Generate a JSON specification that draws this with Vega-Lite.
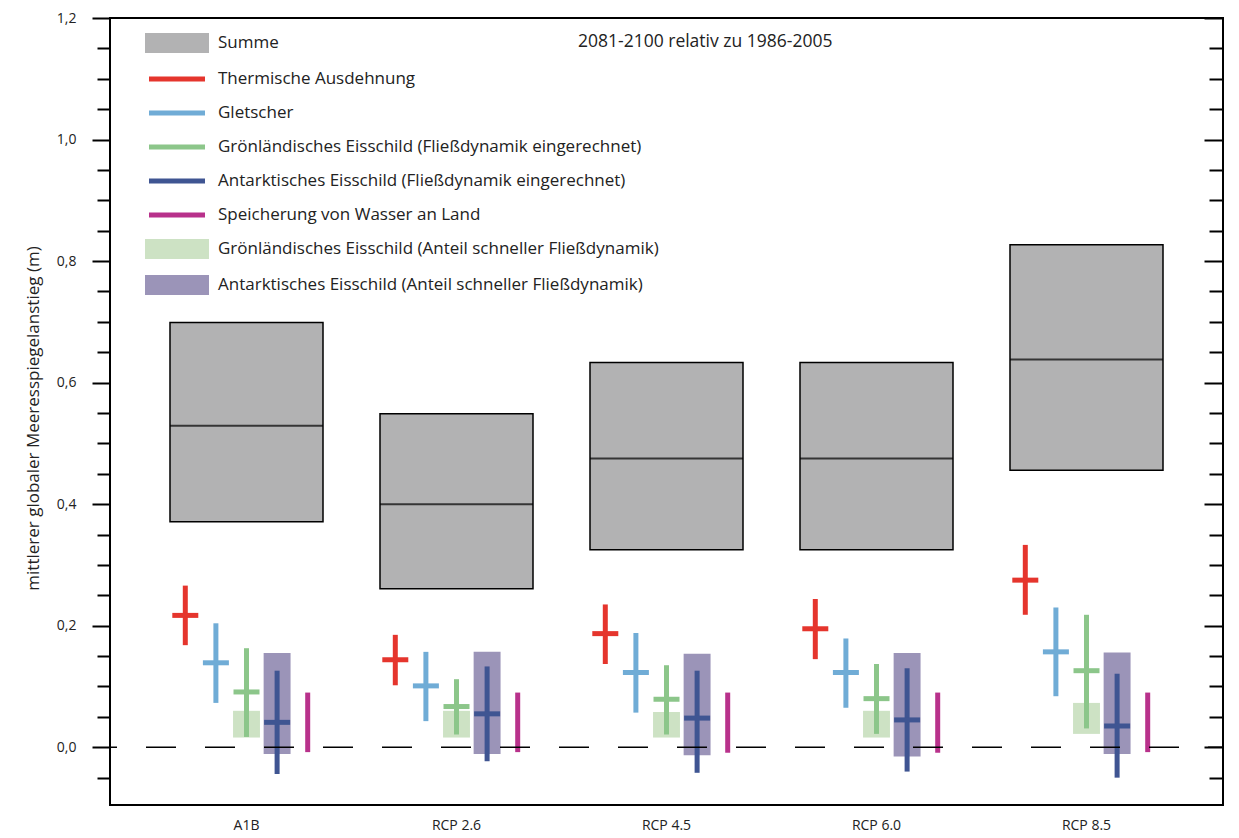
{
  "$schema": "https://vega.github.io/schema/vega-lite/v6.json",
  "width": 1113,
  "height": 787,
  "autosize": {"type": "none"},
  "padding": {"left": 110, "top": 18, "right": 16, "bottom": 33},
  "background": "white",
  "config": {
    "view": {"stroke": "black", "strokeWidth": 2},
    "font": "Open Sans"
  },
  "title": {
    "text": "2081-2100 relativ zu 1986-2005",
    "anchor": "start", "frame": "group", "orient": "top", "offset": -22,
    "dx": 468, "dy": 31, "baseline": "alphabetic",
    "fontSize": 17.5, "fontWeight": "normal", "font": "Open Sans", "color": "#222222"
  },
  "datasets": {
    "sums": [
      {"scenario": "A1B", "comp": "Summe", "lo": 0.371, "hi": 0.699, "med": 0.529},
      {"scenario": "RCP 2.6", "comp": "Summe", "lo": 0.261, "hi": 0.549, "med": 0.400},
      {"scenario": "RCP 4.5", "comp": "Summe", "lo": 0.325, "hi": 0.633, "med": 0.475},
      {"scenario": "RCP 6.0", "comp": "Summe", "lo": 0.325, "hi": 0.633, "med": 0.475},
      {"scenario": "RCP 8.5", "comp": "Summe", "lo": 0.456, "hi": 0.827, "med": 0.638}
    ],
    "parts": [
      {"scenario": "A1B", "slot": "1", "comp": "Thermische Ausdehnung", "lo": 0.168, "hi": 0.266, "mid": 0.217},
      {"scenario": "A1B", "slot": "2", "comp": "Gletscher", "lo": 0.073, "hi": 0.204, "mid": 0.139},
      {"scenario": "A1B", "slot": "3", "comp": "Grönländisches Eisschild (Fließdynamik eingerechnet)", "lo": 0.017, "hi": 0.163, "mid": 0.091},
      {"scenario": "A1B", "slot": "4", "comp": "Antarktisches Eisschild (Fließdynamik eingerechnet)", "lo": -0.044, "hi": 0.126, "mid": 0.041},
      {"scenario": "A1B", "slot": "5", "comp": "Speicherung von Wasser an Land", "lo": -0.008, "hi": 0.090, "mid": null},
      {"scenario": "RCP 2.6", "slot": "1", "comp": "Thermische Ausdehnung", "lo": 0.102, "hi": 0.185, "mid": 0.144},
      {"scenario": "RCP 2.6", "slot": "2", "comp": "Gletscher", "lo": 0.043, "hi": 0.157, "mid": 0.101},
      {"scenario": "RCP 2.6", "slot": "3", "comp": "Grönländisches Eisschild (Fließdynamik eingerechnet)", "lo": 0.021, "hi": 0.112, "mid": 0.067},
      {"scenario": "RCP 2.6", "slot": "4", "comp": "Antarktisches Eisschild (Fließdynamik eingerechnet)", "lo": -0.023, "hi": 0.133, "mid": 0.055},
      {"scenario": "RCP 2.6", "slot": "5", "comp": "Speicherung von Wasser an Land", "lo": -0.008, "hi": 0.090, "mid": null},
      {"scenario": "RCP 4.5", "slot": "1", "comp": "Thermische Ausdehnung", "lo": 0.137, "hi": 0.235, "mid": 0.187},
      {"scenario": "RCP 4.5", "slot": "2", "comp": "Gletscher", "lo": 0.057, "hi": 0.188, "mid": 0.123},
      {"scenario": "RCP 4.5", "slot": "3", "comp": "Grönländisches Eisschild (Fließdynamik eingerechnet)", "lo": 0.021, "hi": 0.135, "mid": 0.079},
      {"scenario": "RCP 4.5", "slot": "4", "comp": "Antarktisches Eisschild (Fließdynamik eingerechnet)", "lo": -0.042, "hi": 0.126, "mid": 0.048},
      {"scenario": "RCP 4.5", "slot": "5", "comp": "Speicherung von Wasser an Land", "lo": -0.009, "hi": 0.090, "mid": null},
      {"scenario": "RCP 6.0", "slot": "1", "comp": "Thermische Ausdehnung", "lo": 0.145, "hi": 0.244, "mid": 0.195},
      {"scenario": "RCP 6.0", "slot": "2", "comp": "Gletscher", "lo": 0.065, "hi": 0.179, "mid": 0.123},
      {"scenario": "RCP 6.0", "slot": "3", "comp": "Grönländisches Eisschild (Fließdynamik eingerechnet)", "lo": 0.022, "hi": 0.137, "mid": 0.080},
      {"scenario": "RCP 6.0", "slot": "4", "comp": "Antarktisches Eisschild (Fließdynamik eingerechnet)", "lo": -0.040, "hi": 0.130, "mid": 0.045},
      {"scenario": "RCP 6.0", "slot": "5", "comp": "Speicherung von Wasser an Land", "lo": -0.009, "hi": 0.090, "mid": null},
      {"scenario": "RCP 8.5", "slot": "1", "comp": "Thermische Ausdehnung", "lo": 0.218, "hi": 0.333, "mid": 0.275},
      {"scenario": "RCP 8.5", "slot": "2", "comp": "Gletscher", "lo": 0.084, "hi": 0.230, "mid": 0.157},
      {"scenario": "RCP 8.5", "slot": "3", "comp": "Grönländisches Eisschild (Fließdynamik eingerechnet)", "lo": 0.031, "hi": 0.218, "mid": 0.126},
      {"scenario": "RCP 8.5", "slot": "4", "comp": "Antarktisches Eisschild (Fließdynamik eingerechnet)", "lo": -0.050, "hi": 0.121, "mid": 0.035},
      {"scenario": "RCP 8.5", "slot": "5", "comp": "Speicherung von Wasser an Land", "lo": -0.008, "hi": 0.090, "mid": null}
    ],
    "fast": [
      {"scenario": "A1B", "slot": "3", "comp": "Grönländisches Eisschild (Anteil schneller Fließdynamik)", "lo": 0.016, "hi": 0.060},
      {"scenario": "A1B", "slot": "4", "comp": "Antarktisches Eisschild (Anteil schneller Fließdynamik)", "lo": -0.011, "hi": 0.155},
      {"scenario": "RCP 2.6", "slot": "3", "comp": "Grönländisches Eisschild (Anteil schneller Fließdynamik)", "lo": 0.016, "hi": 0.060},
      {"scenario": "RCP 2.6", "slot": "4", "comp": "Antarktisches Eisschild (Anteil schneller Fließdynamik)", "lo": -0.011, "hi": 0.157},
      {"scenario": "RCP 4.5", "slot": "3", "comp": "Grönländisches Eisschild (Anteil schneller Fließdynamik)", "lo": 0.016, "hi": 0.058},
      {"scenario": "RCP 4.5", "slot": "4", "comp": "Antarktisches Eisschild (Anteil schneller Fließdynamik)", "lo": -0.013, "hi": 0.154},
      {"scenario": "RCP 6.0", "slot": "3", "comp": "Grönländisches Eisschild (Anteil schneller Fließdynamik)", "lo": 0.016, "hi": 0.060},
      {"scenario": "RCP 6.0", "slot": "4", "comp": "Antarktisches Eisschild (Anteil schneller Fließdynamik)", "lo": -0.015, "hi": 0.155},
      {"scenario": "RCP 8.5", "slot": "3", "comp": "Grönländisches Eisschild (Anteil schneller Fließdynamik)", "lo": 0.022, "hi": 0.073},
      {"scenario": "RCP 8.5", "slot": "4", "comp": "Antarktisches Eisschild (Anteil schneller Fließdynamik)", "lo": -0.011, "hi": 0.156}
    ],
    "ref": [{"level": 0}]
  },
  "layer": [
    {
      "data": {"name": "sums"},
      "mark": {"type": "bar", "stroke": "black", "strokeWidth": 1.5},
      "encoding": {
        "x": {"field": "scenario", "type": "nominal", "title": null,
          "scale": {"domain": ["A1B", "RCP 2.6", "RCP 4.5", "RCP 6.0", "RCP 8.5"], "paddingInner": 0.2714, "paddingOuter": 0.2857},
          "axis": {"domain": false, "ticks": false, "labelAngle": 0, "labelFont": "Open Sans", "labelFontSize": 14, "labelColor": "#222222", "labelPadding": 13}},
        "y": {"field": "lo", "type": "quantitative",
          "scale": {"domain": [-0.095, 1.2], "nice": false, "zero": false},
          "axis": {"orient": "left", "domain": false, "grid": false,
            "values": [-0.05, 0, 0.05, 0.1, 0.15, 0.2, 0.25, 0.3, 0.35, 0.4, 0.45, 0.5, 0.55, 0.6, 0.65, 0.7, 0.75, 0.8, 0.85, 0.9, 0.95, 1.0, 1.05, 1.1, 1.15, 1.2],
            "labelExpr": "abs(datum.value*5 - round(datum.value*5)) < 0.000001 ? replace(format(datum.value, '.1f'), '.', ',') : ''",
            "tickSize": {"condition": {"test": "abs(datum.value*5 - round(datum.value*5)) < 0.000001", "value": 18}, "value": 13},
            "tickColor": "black", "tickWidth": 2, "labelPadding": 16,
            "labelFont": "Open Sans", "labelFontSize": 14, "labelColor": "#222222",
            "title": "mittlerer globaler Meeresspiegelanstieg (m)",
            "titleFont": "Open Sans", "titleFontSize": 17, "titleFontWeight": "normal", "titleColor": "#222222",
            "titleX": -77, "titleY": 400, "titleAngle": -90, "titleBaseline": "middle", "titleAlign": "center"}},
        "y2": {"field": "hi"},
        "color": {"field": "comp", "type": "nominal",
          "scale": {
            "domain": ["Summe", "Thermische Ausdehnung", "Gletscher", "Grönländisches Eisschild (Fließdynamik eingerechnet)", "Antarktisches Eisschild (Fließdynamik eingerechnet)", "Speicherung von Wasser an Land", "Grönländisches Eisschild (Anteil schneller Fließdynamik)", "Antarktisches Eisschild (Anteil schneller Fließdynamik)"],
            "range": ["#b2b2b3", "#e5352d", "#70acd6", "#8cc68a", "#3f5592", "#b8318b", "#cde2c4", "#9b94b8"]},
          "legend": {"title": null, "orient": "none", "legendX": 57, "legendY": 15, "padding": 0,
            "symbolSize": 400, "symbolStrokeWidth": 0, "symbolOpacity": 1,
            "symbolType": {"expr": "indexof(['Summe','Grönländisches Eisschild (Anteil schneller Fließdynamik)','Antarktisches Eisschild (Anteil schneller Fließdynamik)'], datum.value) >= 0 ? 'M-3.2,-1H3.2V1H-3.2Z' : 'M-2.8,-0.25H2.8V0.25H-2.8Z'"},
            "labelFont": "Open Sans", "labelFontSize": 17, "labelColor": "#222222", "labelOffset": 31, "labelLimit": 700,
            "rowPadding": 16}}
      }
    },
    {
      "data": {"name": "sums"},
      "mark": {"type": "tick", "size": 153, "thickness": 2, "color": "black"},
      "encoding": {
        "x": {"field": "scenario", "type": "nominal", "title": null,
          "scale": {"domain": ["A1B", "RCP 2.6", "RCP 4.5", "RCP 6.0", "RCP 8.5"]}},
        "y": {"field": "med", "type": "quantitative", "axis": null}
      }
    },
    {
      "data": {"name": "fast"},
      "mark": {"type": "bar"},
      "encoding": {
        "x": {"field": "scenario", "type": "nominal", "title": null,
          "scale": {"domain": ["A1B", "RCP 2.6", "RCP 4.5", "RCP 6.0", "RCP 8.5"]}},
        "xOffset": {"field": "slot", "type": "nominal", "scale": {"domain": ["1", "2", "3", "4", "5"], "paddingInner": 0.12, "paddingOuter": 0.06}},
        "y": {"field": "lo", "type": "quantitative", "axis": null},
        "y2": {"field": "hi"},
        "color": {"field": "comp", "type": "nominal"}
      }
    },
    {
      "data": {"name": "parts"},
      "mark": {"type": "rule", "strokeWidth": 5},
      "encoding": {
        "x": {"field": "scenario", "type": "nominal", "title": null,
          "scale": {"domain": ["A1B", "RCP 2.6", "RCP 4.5", "RCP 6.0", "RCP 8.5"]}},
        "xOffset": {"field": "slot", "type": "nominal", "scale": {"domain": ["1", "2", "3", "4", "5"], "paddingInner": 0.12, "paddingOuter": 0.06}},
        "y": {"field": "lo", "type": "quantitative", "axis": null},
        "y2": {"field": "hi"},
        "color": {"field": "comp", "type": "nominal"}
      }
    },
    {
      "data": {"name": "parts"},
      "mark": {"type": "tick", "size": 26, "thickness": 5, "opacity": 1},
      "encoding": {
        "x": {"field": "scenario", "type": "nominal", "title": null,
          "scale": {"domain": ["A1B", "RCP 2.6", "RCP 4.5", "RCP 6.0", "RCP 8.5"]}},
        "xOffset": {"field": "slot", "type": "nominal", "scale": {"domain": ["1", "2", "3", "4", "5"], "paddingInner": 0.12, "paddingOuter": 0.06}},
        "y": {"field": "mid", "type": "quantitative", "axis": null},
        "color": {"field": "comp", "type": "nominal"}
      }
    },
    {
      "data": {"name": "ref"},
      "mark": {"type": "rule", "color": "black", "strokeWidth": 1.6, "strokeDash": [30, 29], "strokeDashOffset": 15},
      "encoding": {
        "y": {"field": "level", "type": "quantitative",
          "axis": {"orient": "right", "domain": false, "grid": false, "labels": false, "title": null,
            "values": [-0.05, 0, 0.05, 0.1, 0.15, 0.2, 0.25, 0.3, 0.35, 0.4, 0.45, 0.5, 0.55, 0.6, 0.65, 0.7, 0.75, 0.8, 0.85, 0.9, 0.95, 1.0, 1.05, 1.1, 1.15, 1.2],
            "tickSize": {"condition": {"test": "abs(datum.value*5 - round(datum.value*5)) < 0.000001", "value": -19}, "value": -14},
            "tickColor": "black", "tickWidth": 2}}
      }
    }
  ],
  "resolve": {"axis": {"y": "independent"}}
}
